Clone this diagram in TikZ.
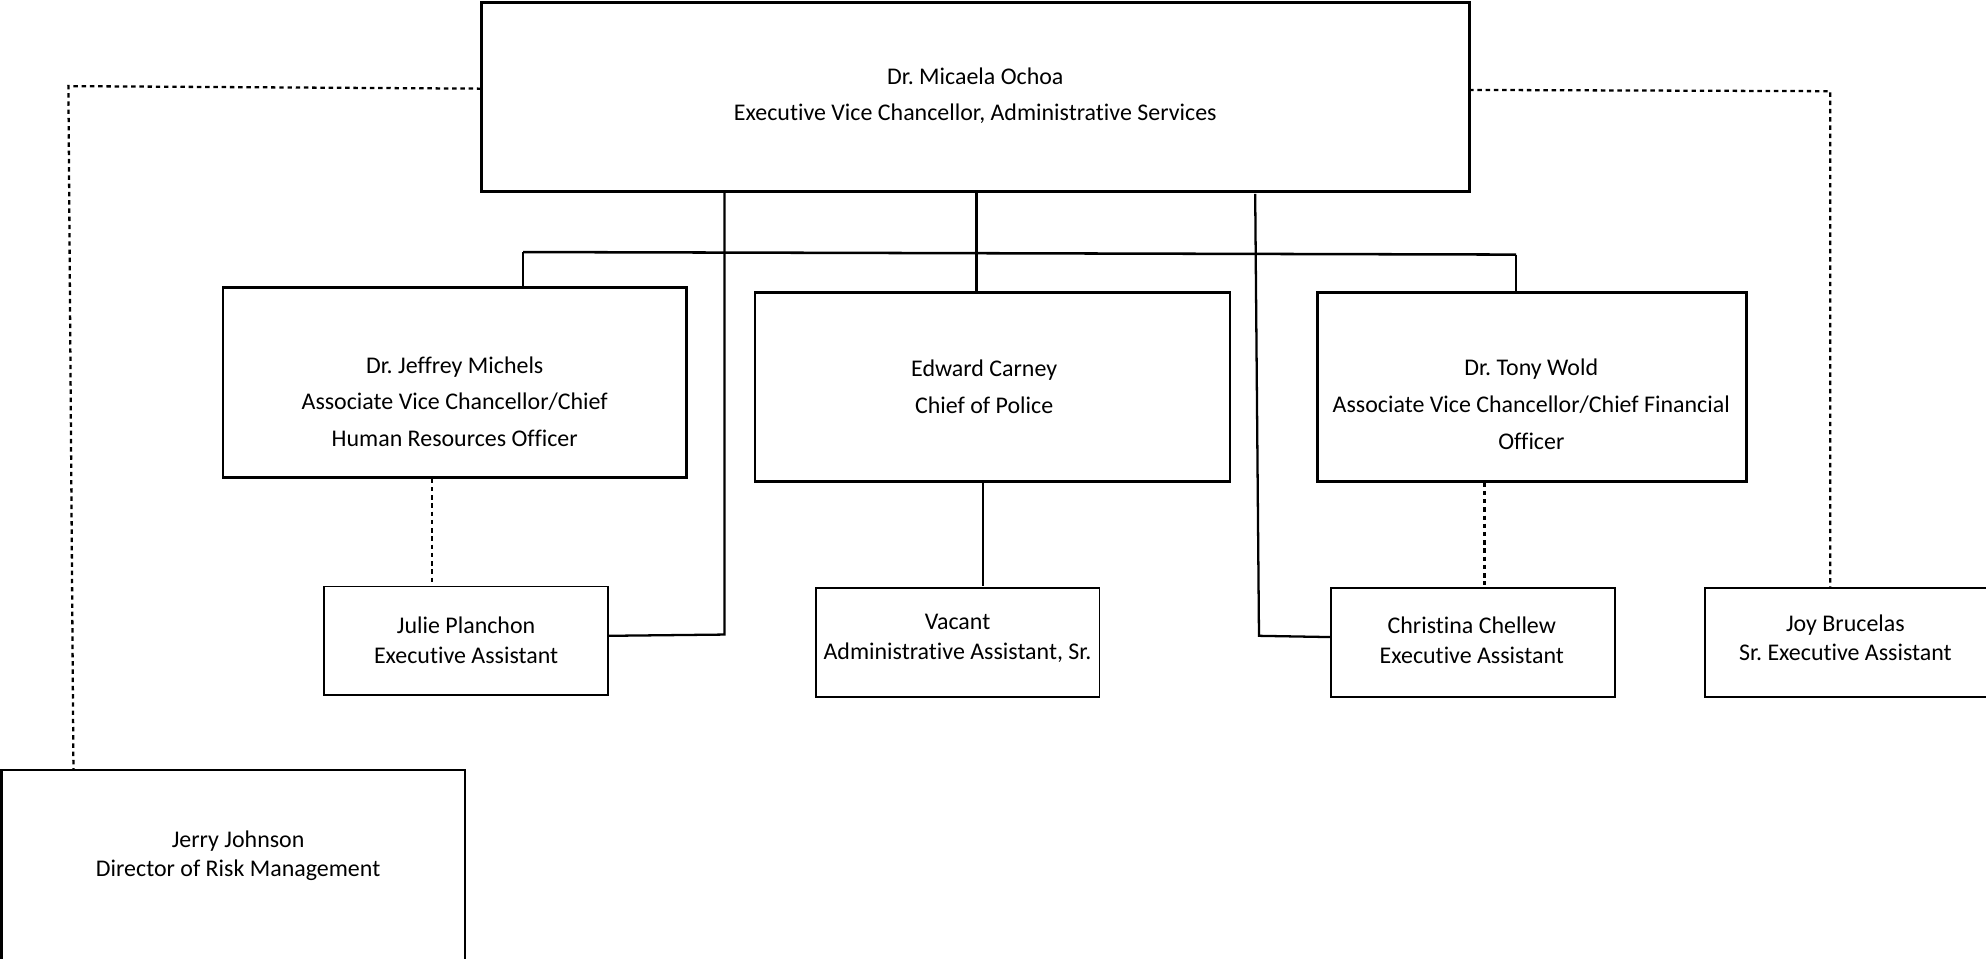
\documentclass[tikz,border=0pt]{standalone}
\usepackage{fontspec}
\setmainfont{Carlito}[Ligatures={NoCommon}]
\frenchspacing
\begin{document}
\begin{tikzpicture}[x=1pt,y=-1pt,
  bigbox/.style={draw, line width=2pt, inner sep=0pt, minimum height=149pt},
  smallbox/.style={draw, line width=1.4pt, inner sep=0pt, minimum width=224pt, minimum height=86pt},
  bigtxt/.style={align=center, inner sep=0pt, font=\fontsize{18.9}{29}\selectfont},
  smalltxt/.style={align=center, inner sep=0pt, font=\fontsize{18.9}{23}\selectfont},
  solidline/.style={line width=1.8pt},
  barline/.style={line width=2pt},
  dotline/.style={line width=1.8pt, dash pattern=on 3.5pt off 3pt}]
\useasboundingbox (0,0) rectangle (1568,757);
% boxes
\node[bigbox, minimum width=780pt] (ochoa) at (770,76.5) {};
\node[bigbox, minimum width=366pt, minimum height=150pt] (michels) at (359,302) {};
\node[bigbox, minimum width=375pt] (carney) at (783.5,305.5) {};
\node[bigbox, minimum width=339pt] (wold) at (1209.5,305.5) {};
\node[smallbox] (julie) at (368,506) {};
\node[smallbox] (vacant) at (756,507) {};
\node[smallbox] (chellew) at (1163,507) {};
\node[smallbox] (joy) at (1458,507) {};
\node[bigbox, minimum width=366pt, minimum height=150pt] (jerry) at (184,683) {};
% texts
\node[bigtxt] (ochoaT) at (770,75.5) {Dr. Micaela Ochoa\\Executive Vice Chancellor, Administrative Services};
\node[bigtxt] (michelsT) at (359,317) {Dr. Jeffrey Michels\\Associate Vice Chancellor/Chief\\Human Resources Officer};
\node[bigtxt] (carneyT) at (777,305.5) {Edward Carney\\Chief of Police};
\node[bigtxt] (woldT) at (1209,319) {Dr. Tony Wold\\Associate Vice Chancellor/Chief Financial\\Officer};
\node[smalltxt] (julieT) at (368,505.5) {Julie Planchon\\Executive Assistant};
\node[smalltxt] (vacantT) at (756,504) {Vacant\\Administrative Assistant, Sr.};
\node[smalltxt] (chellewT) at (1162,505.5) {Christina Chellew\\Executive Assistant};
\node[smalltxt] (joyT) at (1457,503.5) {Joy Brucelas\\Sr. Executive Assistant};
\node[smalltxt] (jerryT) at (188,675.5) {Jerry Johnson\\Director of Risk Management};
% bend points
\coordinate (lA) at (380,70);
\coordinate (lB) at (54,68);
\coordinate (lC) at (58,608);
\coordinate (rA) at (1160,71);
\coordinate (rB) at (1445,72);
\coordinate (jA) at (572,151);
\coordinate (jB) at (572,501);
\coordinate (jC) at (480,502);
\coordinate (cA) at (991,153);
\coordinate (cB) at (994,502);
\coordinate (cC) at (1051,503);
\coordinate (barL) at (413,199);
\coordinate (barR) at (1197,201);
% dotted connectors
\draw[dotline] (lA) -- (lB) -- (lC);
\draw[dotline] (rA) -- (rB) -- (rB |- joy.north);
\draw[dotline] (michels.south -| 341,0) -- (341,460);
\draw[dotline] (wold.south -| 1172,0) -- (1172,462);
% solid connectors
\draw[solidline] (jA) -- (jB) -- (jC);
\draw[solidline] (cA) -- (cB) -- (cC);
\draw[solidline] (ochoa.south -| 771,0) -- (carney.north -| 771,0);
\draw[barline] (barL) -- (barR);
\draw[solidline] (barL) -- (michels.north -| barL);
\draw[solidline] (barR) -- (wold.north -| barR);
\draw[solidline] (carney.south -| 776,0) -- (776,463);
\end{tikzpicture}
\end{document}
